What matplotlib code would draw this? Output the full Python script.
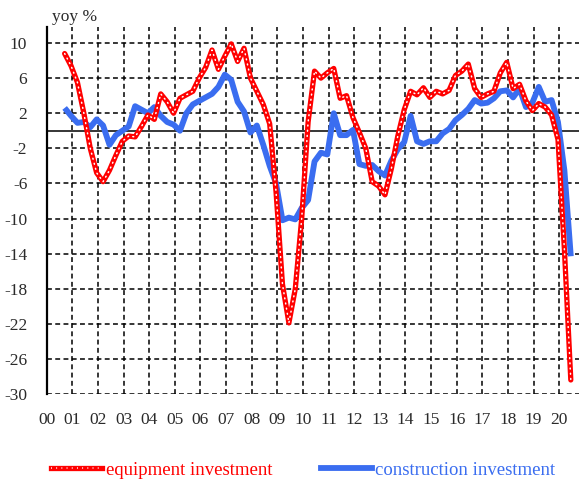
import numpy as np
import pandas as pd
import matplotlib
matplotlib.use("Agg")
import matplotlib.pyplot as plt
from matplotlib.lines import Line2D
from matplotlib.legend_handler import HandlerTuple

# ---------------- data (yoy %, quarterly, 2000Q3 - 2020Q2) ----------------
start_quarter = "2000Q3"
end_quarter = "2020Q2"

equipment = [
    8.8, 7.4, 5.5, 2.0, -2.0, -4.8, -5.8, -4.5, -2.8, -1.2,
    -0.6, -0.7, 0.5, 1.8, 1.3, 4.2, 3.3, 2.0, 3.7, 4.1,
    4.5, 6.0, 7.2, 9.2, 7.0, 8.5, 9.9, 7.9, 9.4, 6.0,
    4.5, 3.0, 0.8, -7.0, -17.5, -21.9, -18.0, -10.0, 1.0, 6.8,
    6.0, 6.6, 7.1, 3.7, 4.0, 1.5, -0.2, -2.0, -5.8, -6.3,
    -7.3, -4.3, -0.6, 2.4, 4.5, 4.1, 4.9, 3.8, 4.5, 4.2,
    4.6, 6.3, 6.8, 7.6, 4.8, 3.8, 4.2, 4.5, 6.6, 7.8,
    4.8, 5.3, 3.4, 2.3, 3.1, 2.7, 1.8, -1.0, -13.5, -28.4,
]
construction = [
    2.6, 1.7, 0.9, 1.0, 0.4, 1.3, 0.6, -1.6, -0.5, 0.0,
    0.5, 2.8, 2.4, 2.0, 2.7, 1.7, 1.0, 0.7, 0.0, 2.0,
    3.0, 3.4, 3.8, 4.2, 5.0, 6.4, 5.8, 3.3, 2.2, -0.2,
    0.6, -1.6, -4.0, -6.0, -10.2, -9.9, -10.1, -8.8, -7.9, -3.5,
    -2.5, -2.7, 2.0, -0.5, -0.5, 0.1, -3.8, -4.0, -3.9, -4.6,
    -5.1, -3.4, -2.1, -1.3, 1.7, -1.2, -1.5, -1.2, -1.2, -0.3,
    0.2, 1.2, 1.8, 2.5, 3.5, 3.1, 3.2, 3.7, 4.5, 4.6,
    3.8, 4.8, 2.7, 3.2, 5.0, 3.3, 3.5, 1.0, -4.5, -14.3,
]
year_ticks = list(range(2000, 2021))
year_labels = [f"{y % 100:02d}" for y in year_ticks]
y_ticks = list(range(-30, 11, 4))
y_label = "yoy %"
series_names = ["equipment investment", "construction investment"]

# ---------------- styling ----------------
RED = "#ff0000"
BLUE = "#3a6df0"
TXT = "#2a2a2a"
FONT = "Liberation Serif"
plt.rcParams["font.family"] = [FONT, "DejaVu Serif"]
plt.rcParams["axes.unicode_minus"] = False

periods = pd.period_range(start_quarter, end_quarter, freq="Q")
x = np.array([p.year + (p.quarter - 1) / 4 + 0.2 for p in periods])

fig = plt.figure(figsize=(5.79, 4.83), dpi=100)
ax = fig.add_axes([46.7 / 579, 1 - 394 / 483, 1 - 46.7 / 579, (394 - 26.7) / 483])

ax.set_xlim(2000, 2020.77)
ax.set_ylim(-30, 11.86)

# grid
for yt in y_ticks:
    ax.axhline(yt, color="black", lw=1.1, ls=(0, (3.2, 2.2)), zorder=1)
for xt in year_ticks[1:]:
    ax.axvline(xt, color="black", lw=1.1, ls=(0, (3.2, 2.2)), zorder=1)
ax.axhline(0, color="black", lw=1.1, zorder=1.5)

# series
RED_LW = 3.8
DOT_LW = 1.1
DOT_LS = (0, (0.6, 2.8))
ax.plot(x, construction, color=BLUE, lw=4.2, solid_capstyle="butt", zorder=3)
ax.plot(x, equipment, color=RED, lw=RED_LW, solid_capstyle="round", zorder=4)
ax.plot(x, equipment, color="white", lw=DOT_LW, ls=DOT_LS,
        dash_capstyle="round", zorder=5)

ax.set_xticks(year_ticks)
ax.set_xticklabels(year_labels)
ax.set_yticks(y_ticks)
ax.tick_params(axis="both", length=0, labelsize=12.5, colors=TXT)
ax.tick_params(axis="x", pad=13)
ax.tick_params(axis="y", pad=14)

for s in ["top", "right", "bottom"]:
    ax.spines[s].set_visible(False)
ax.spines["left"].set_linewidth(1.6)
ax.spines["left"].set_color("black")

fig.text(52 / 579, 1 - 17 / 483, y_label, fontsize=12.5, color=TXT,
         ha="left", va="center")

# legend
h_red = (Line2D([], [], color=RED, lw=RED_LW),
         Line2D([], [], color="white", lw=DOT_LW, ls=DOT_LS))
h_blue = Line2D([], [], color=BLUE, lw=4.2)
leg = fig.legend([h_red, h_blue], series_names,
                 handler_map={tuple: HandlerTuple(ndivide=1, pad=0)},
                 loc="center", bbox_to_anchor=(0.524, 1 - 470 / 483), ncol=2,
                 frameon=False, fontsize=13.5, handlelength=2.7,
                 handletextpad=0.2, columnspacing=2.6)
for t, c in zip(leg.get_texts(), [RED, BLUE]):
    t.set_color(c)

fig.savefig("out.png", dpi=100)
